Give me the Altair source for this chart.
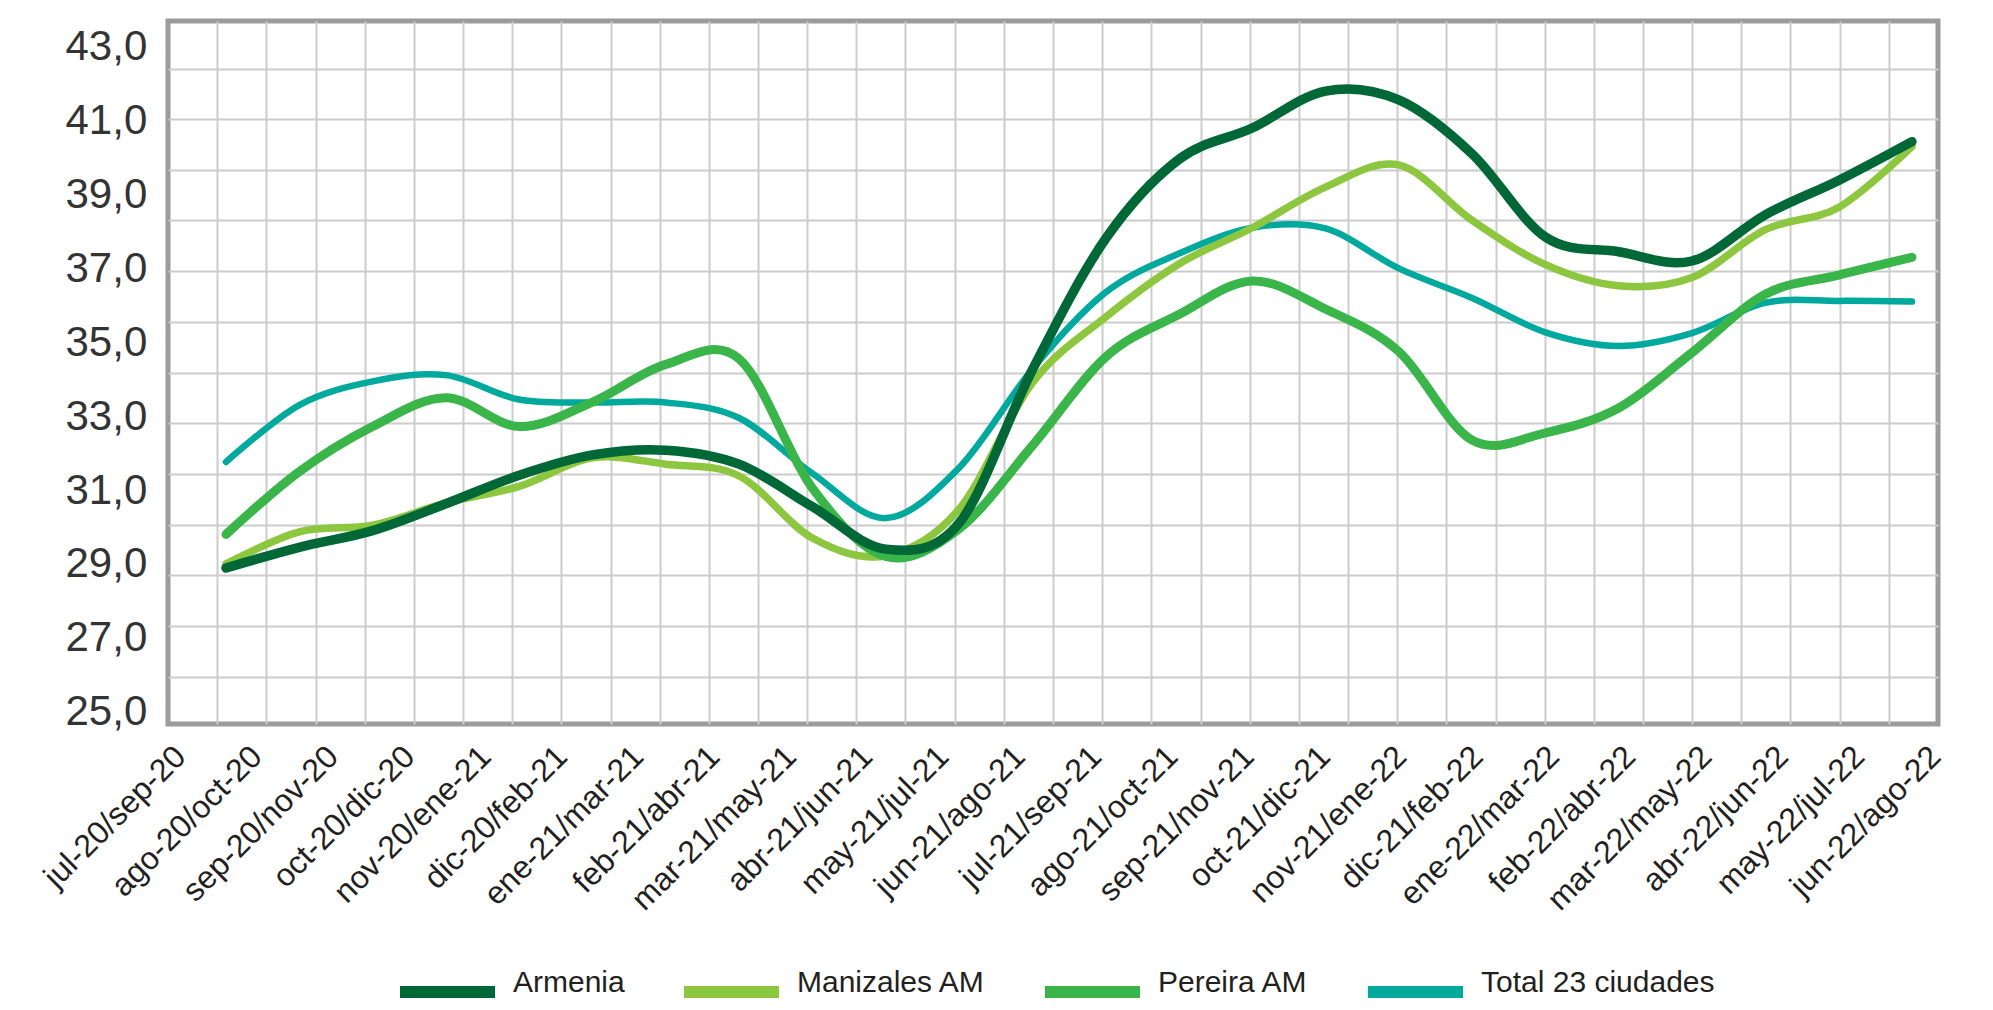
import altair as alt
import pandas as pd

# ---------------- data ----------------
periods = ["jul-20/sep-20", "ago-20/oct-20", "sep-20/nov-20", "oct-20/dic-20",
           "nov-20/ene-21", "dic-20/feb-21", "ene-21/mar-21", "feb-21/abr-21",
           "mar-21/may-21", "abr-21/jun-21", "may-21/jul-21", "jun-21/ago-21",
           "jul-21/sep-21", "ago-21/oct-21", "sep-21/nov-21", "oct-21/dic-21",
           "nov-21/ene-22", "dic-21/feb-22", "ene-22/mar-22", "feb-22/abr-22",
           "mar-22/may-22", "abr-22/jun-22", "may-22/jul-22", "jun-22/ago-22"]

armenia = [28.89, 29.45, 29.90, 30.63, 31.40, 31.95, 32.08, 31.70, 30.55, 29.40,
           30.10, 34.25, 37.80, 39.95, 40.80, 41.80, 41.56, 40.10, 37.85, 37.45,
           37.20, 38.45, 39.38, 40.43]
manizales = [29.00, 29.87, 30.05, 30.65, 31.10, 31.87, 31.70, 31.38, 29.70, 29.22,
             30.48, 33.90, 35.68, 37.12, 38.10, 39.20, 39.80, 38.30, 37.10, 36.53,
             36.75, 38.05, 38.65, 40.30]
pereira = [29.80, 31.50, 32.72, 33.50, 32.72, 33.38, 34.40, 34.55, 31.05, 29.20,
           29.95, 32.20, 34.60, 35.75, 36.66, 35.90, 34.75, 32.35, 32.55, 33.22,
           34.72, 36.30, 36.82, 37.30]
total = [31.76, 33.30, 33.94, 34.11, 33.45, 33.37, 33.37, 32.95, 31.45, 30.24,
         31.60, 34.27, 36.35, 37.40, 38.10, 38.08, 37.00, 36.20, 35.27, 34.90,
         35.25, 36.07, 36.12, 36.10]

series_names = ["Armenia", "Manizales AM", "Pereira AM", "Total 23 ciudades"]
series_colors = ["#006837", "#8DC63F", "#39B54A", "#00A99D"]
series_values = [armenia, manizales, pereira, total]
series_widths = [9.5, 7.5, 9.0, 6.5]
draw_order = ["Total 23 ciudades", "Manizales AM", "Pereira AM", "Armenia"]

y_labels = [25, 27, 29, 31, 33, 35, 37, 39, 41, 43]

# ---------------- layout / style ----------------
W, H = 1770, 703
X_DOMAIN = [-0.7913, 23.3561]
Y_DOMAIN = [24.667, 43.696]
x_grid = [X_DOMAIN[0] + (X_DOMAIN[1] - X_DOMAIN[0]) * k / 36 for k in range(1, 36)]
y_grid = [42.397, 41.043, 39.663, 38.309, 36.929, 35.548, 34.168, 32.814,
          31.434, 30.054, 28.700, 27.320, 25.939]
GRID = "#cccccc"

rows = []
for name, vals in zip(series_names, series_values):
    for i, v in enumerate(vals):
        rows.append({"serie": name, "i": i, "periodo": periods[i], "valor": v})
df = pd.DataFrame(rows)

color_scale = alt.Scale(domain=series_names, range=series_colors)
legend = alt.Legend(
    title=None, orient="none", legendX=226, legendY=964, direction="horizontal",
    symbolType="M-1,0H1", symbolSize=9025, symbolStrokeWidth=12, clipHeight=14,
    symbolOpacity=1, labelFont="Liberation Sans", labelFontSize=30,
    labelColor="#231f20", labelOffset=12, columnPadding=53, padding=0,
    labelBaseline="alphabetic", labelLimit=600,
)

x_enc = alt.X("i:Q", scale=alt.Scale(domain=X_DOMAIN, nice=False, zero=False),
              axis=alt.Axis(orient="top", values=x_grid, labels=False, ticks=False,
                            tickSize=0, domain=False, grid=True, gridColor=GRID,
                            gridWidth=2, title=None, minExtent=0, maxExtent=0))
y_enc = alt.Y("valor:Q", scale=alt.Scale(domain=Y_DOMAIN, nice=False, zero=False),
              axis=alt.Axis(orient="left", values=y_labels,
                            labelExpr="replace(format(datum.value, '.1f'), '.', ',')",
                            labelFont="Liberation Sans", labelFontSize=42,
                            labelColor="#333333", labelAlign="left",
                            labelBaseline="middle", labelPadding=103,
                            ticks=False, tickSize=0, domain=False, grid=False,
                            title=None, labelOverlap=False, minExtent=103,
                            maxExtent=103))

line_layers = []
for name in draw_order:
    w = series_widths[series_names.index(name)]
    line_layers.append(
        alt.Chart(df)
        .transform_filter(alt.datum.serie == name)
        .mark_line(strokeWidth=w, interpolate="cardinal", strokeCap="round",
                   strokeJoin="round")
        .encode(x=x_enc, y=y_enc,
                color=alt.Color("serie:N", scale=color_scale, legend=legend),
                detail="serie:N")
    )
lines = alt.layer(*line_layers)

label_df = pd.DataFrame({"periodo": periods, "valor": armenia})
labels = alt.Chart(label_df).mark_point(opacity=0).encode(
    x=alt.X("periodo:N", sort=periods,
            scale=alt.Scale(type="point", padding=0.0983, align=0.8),
            axis=alt.Axis(orient="bottom", labelAngle=315, labelAlign="right",
                          labelBaseline="middle", labelPadding=27,
                          labelFont="Liberation Sans", labelFontSize=32,
                          labelColor="#231f20", ticks=False, tickSize=0,
                          domain=False, grid=False, title=None,
                          labelOverlap=False, labelLimit=600)),
    y=alt.Y("valor:Q", scale=alt.Scale(domain=Y_DOMAIN, nice=False, zero=False),
            axis=alt.Axis(orient="right", values=y_grid, labels=False,
                          ticks=False, tickSize=0, domain=False, grid=True,
                          gridColor=GRID, gridWidth=2, title=None,
                          minExtent=0, maxExtent=0)),
)

chart = (
    alt.layer(lines, labels)
    .resolve_scale(x="independent", y="independent")
    .properties(width=W, height=H,
                autosize=alt.AutoSizeParams(type="none"),
                padding={"left": 160, "top": 13, "right": 40, "bottom": 274},
                background="white")
    .configure_view(stroke="#9b9b9b", strokeWidth=5)
)

chart.save("out.html", embed_options={"renderer": "svg", "actions": False})
